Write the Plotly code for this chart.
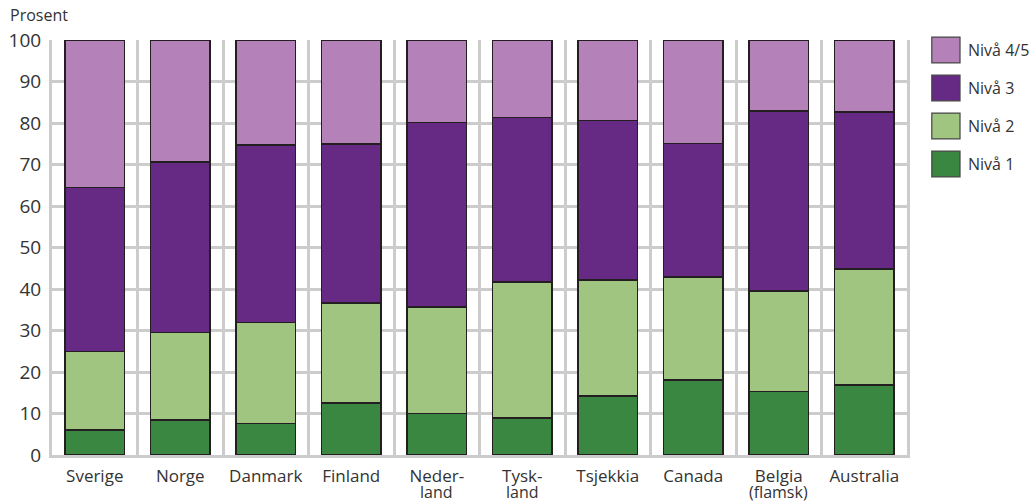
import plotly.graph_objects as go

# Andel elever på hvert nivå (prosent), per land
land = ["Sverige", "Norge", "Danmark", "Finland", "Nederland", "Tyskland",
        "Tsjekkia", "Canada", "Belgia (flamsk)", "Australia"]
# Etikettene brytes over to linjer der navnet er langt
etikett_linje1 = ["Sverige", "Norge", "Danmark", "Finland", "Neder-", "Tysk-",
                  "Tsjekkia", "Canada", "Belgia", "Australia"]
etikett_linje2 = ["", "", "", "", "land", "land", "", "", "(flamsk)", ""]

niva1 = [6.0, 8.4, 7.6, 12.5, 10.0, 8.9, 14.2, 18.1, 15.3, 16.9]
niva2 = [18.9, 21.1, 24.3, 24.1, 25.7, 32.8, 28.0, 24.8, 24.2, 27.9]
niva3 = [39.6, 41.1, 42.8, 38.3, 44.4, 39.6, 38.4, 32.2, 43.4, 37.8]
niva45 = [35.5, 29.4, 25.3, 25.1, 19.9, 18.7, 19.4, 24.9, 17.1, 17.4]

serier = [
    ("Nivå 1", niva1, "#3a8741"),
    ("Nivå 2", niva2, "#a0c580"),
    ("Nivå 3", niva3, "#672a84"),
    ("Nivå 4/5", niva45, "#b482b8"),
]

FONT = "Open Sans"
TEXT = "#333333"
GRID = "#cccccc"
EDGE = "#231f20"

fig = go.Figure()
for navn, verdier, farge in serier:
    fig.add_trace(go.Bar(
        x=land, y=verdier, name=navn,
        marker=dict(color=farge, line=dict(color=EDGE, width=1.5)),
        width=0.7, showlegend=False,
    ))

# Andre linje av lange landnavn, tett under første linje
for navn, linje2 in zip(land, etikett_linje2):
    if linje2:
        fig.add_annotation(xref="x", yref="paper", x=navn, y=-0.089,
                           text=linje2, showarrow=False, xanchor="center",
                           yanchor="middle", borderpad=0,
                           font=dict(family=FONT, size=16, color=TEXT))

# Egen tegnforklaring til høyre for plottet
legend_items = list(reversed(serier))
for i, (navn, _, farge) in enumerate(legend_items):
    y_top = 1.007 - i * 0.0916
    fig.add_shape(type="rect", xref="paper", yref="paper",
                  x0=1.029, x1=1.062, y0=y_top - 0.062, y1=y_top,
                  fillcolor=farge, line=dict(color="#444444", width=1.2))
    fig.add_annotation(xref="paper", yref="paper", x=1.069, y=y_top - 0.031,
                       text=navn, showarrow=False, xanchor="left", yanchor="middle",
                       font=dict(family=FONT, size=16, color=TEXT))

fig.add_annotation(xref="paper", yref="paper", x=-0.052, y=1.03,
                   text="Prosent", showarrow=False, xanchor="left", yanchor="bottom",
                   font=dict(family=FONT, size=16, color=TEXT))

fig.update_layout(
    width=1034, height=502,
    margin=dict(l=52, r=127, t=40, b=47),
    barmode="stack",
    plot_bgcolor="white", paper_bgcolor="white",
    font=dict(family=FONT, size=17, color=TEXT),
    showlegend=False,
    xaxis=dict(
        type="category", tickson="boundaries", showgrid=True, automargin=False,
        gridcolor=GRID, gridwidth=3, showline=True, linecolor=GRID, linewidth=3,
        ticks="", tickfont=dict(family=FONT, size=17, color=TEXT),
        tickvals=land, ticktext=etikett_linje1,
        ticklabelstandoff=4, range=[-0.5, 9.5],
    ),
    yaxis=dict(
        range=[0, 100], dtick=10, showgrid=True, gridcolor=GRID, gridwidth=3,
        automargin=False, showline=True, mirror=True, linecolor=GRID, linewidth=3,
        zeroline=False, ticks="", tickfont=dict(family=FONT, size=19, color=TEXT),
        ticklabelstandoff=4,
    ),
)

fig.write_html("out.html")
